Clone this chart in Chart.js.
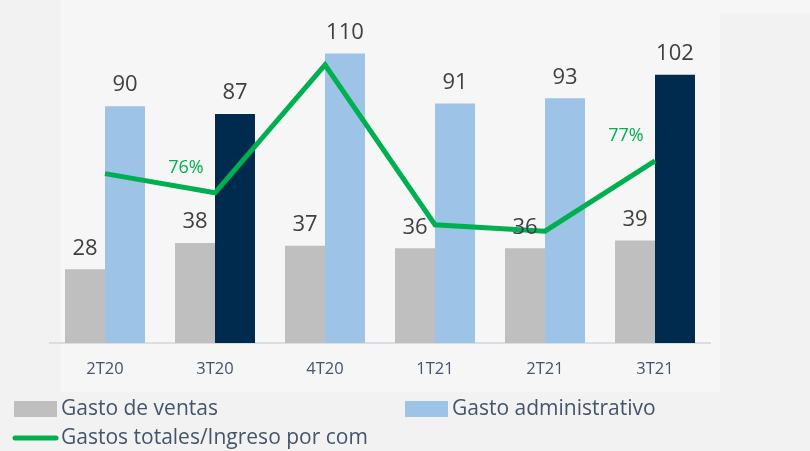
<!DOCTYPE html>
<html>
<head>
<meta charset="utf-8">
<script src="https://cdn.jsdelivr.net/npm/chart.js@4.4.0/dist/chart.umd.min.js"></script>
<style>
  html, body { margin: 0; padding: 0; background: #f2f2f2; }
  #wrap { width: 810px; height: 451px; position: relative; }
</style>
</head>
<body>
<div id="wrap"><canvas id="gastosChart" width="810" height="451"></canvas></div>
<script>
// data
const quarters = ['2T20', '3T20', '4T20', '1T21', '2T21', '3T21'];
const gastoVentas = [28, 38, 37, 36, 36, 39];
const gastoAdmin = [90, 87, 110, 91, 93, 102];
const ratioGastos = [76.6, 76, 80, 75, 74.8, 77];
const ratioLabelled = ['3T20', '3T21'];
const highlighted = ['3T20', '3T21'];

const FONT = "'Open Sans', 'Liberation Sans', sans-serif";
const GRAY = '#bfbfbf';
const LIGHT_BLUE = '#9dc3e6';
const NAVY = '#002b4e';
const GREEN = '#00b050';
const TEXT = '#44546a';

// lighter panel behind the plot, like the slide background
const backgroundPlugin = {
    id: 'panelBg',
    beforeDraw(chart) {
        const ctx = chart.ctx;
        ctx.save();
        ctx.fillStyle = '#f2f2f2';
        ctx.fillRect(0, 0, chart.width, chart.height);
        ctx.fillStyle = '#f6f6f6';
        ctx.fillRect(61, 0, 659, 392);
        ctx.fillRect(720, 0, 90, 13);
        ctx.restore();
    }
};

// value labels above bars and selected line points
const valueLabels = {
    id: 'valueLabels',
    afterDatasetsDraw(chart) {
        const ctx = chart.ctx;
        ctx.save();
        ctx.textAlign = 'center';
        ctx.textBaseline = 'middle';
        chart.data.datasets.forEach((ds, i) => {
            const meta = chart.getDatasetMeta(i);
            meta.data.forEach((el, j) => {
                if (ds.type === 'line') {
                    if (!ratioLabelled.includes(quarters[j])) return;
                    ctx.fillStyle = GREEN;
                    ctx.font = '18px ' + FONT;
                    ctx.fillText(Math.round(ds.data[j]) + '%', el.x - 29, el.y - 25);
                } else {
                    ctx.fillStyle = '#404040';
                    ctx.font = '22px ' + FONT;
                    ctx.fillText(ds.data[j], el.x, el.y - 21);
                }
            });
        });
        ctx.restore();
    }
};

// legend laid out like the original slide
const slideLegend = {
    id: 'slideLegend',
    afterDraw(chart) {
        const ctx = chart.ctx;
        const ds = chart.data.datasets;
        const spots = [
            { x: 14, y: 409 },
            { x: 405, y: 409 },
            { x: 14, y: 438 }
        ];
        ctx.save();
        ctx.font = '21px ' + FONT;
        ctx.textBaseline = 'middle';
        ds.forEach((d, i) => {
            const p = spots[i];
            if (d.type === 'line') {
                ctx.strokeStyle = d.borderColor;
                ctx.lineWidth = 5;
                ctx.lineCap = 'round';
                ctx.beginPath();
                ctx.moveTo(p.x + 1, p.y);
                ctx.lineTo(p.x + 42, p.y);
                ctx.stroke();
            } else {
                ctx.fillStyle = d.legendColor;
                ctx.fillRect(p.x, p.y - 8, 43, 16);
            }
            ctx.fillStyle = TEXT;
            ctx.fillText(d.label, p.x + 47, p.y);
        });
        ctx.restore();
    }
};

new Chart(document.getElementById('gastosChart').getContext('2d'), {
    data: {
        labels: quarters,
        datasets: [
            {
                type: 'bar',
                label: 'Gasto de ventas',
                data: gastoVentas,
                backgroundColor: GRAY,
                legendColor: GRAY,
                yAxisID: 'y',
                order: 2,
                categoryPercentage: 0.727,
                barPercentage: 1
            },
            {
                type: 'bar',
                label: 'Gasto administrativo',
                data: gastoAdmin,
                backgroundColor: quarters.map(q => highlighted.includes(q) ? NAVY : LIGHT_BLUE),
                legendColor: LIGHT_BLUE,
                yAxisID: 'y',
                order: 2,
                categoryPercentage: 0.727,
                barPercentage: 1
            },
            {
                type: 'line',
                label: 'Gastos totales/Ingreso por com',
                data: ratioGastos,
                borderColor: GREEN,
                borderWidth: 5,
                pointRadius: 0,
                tension: 0,
                fill: false,
                yAxisID: 'y1',
                order: 1
            }
        ]
    },
    options: {
        responsive: false,
        animation: false,
        layout: { padding: { left: 50, right: 100, top: 1, bottom: 0 } },
        plugins: {
            legend: { display: false },
            tooltip: { enabled: false }
        },
        scales: {
            x: {
                grid: { display: false, drawTicks: false },
                border: { display: true, color: '#d9dee5', width: 2 },
                ticks: { color: TEXT, font: { family: FONT, size: 16.5 }, padding: 16 },
                afterFit(scale) { scale.height = 108; }
            },
            y: { display: false, min: 0, max: 130 },
            y1: { display: false, min: 71.3, max: 82 }
        }
    },
    plugins: [backgroundPlugin, valueLabels, slideLegend]
});
</script>
</body>
</html>
